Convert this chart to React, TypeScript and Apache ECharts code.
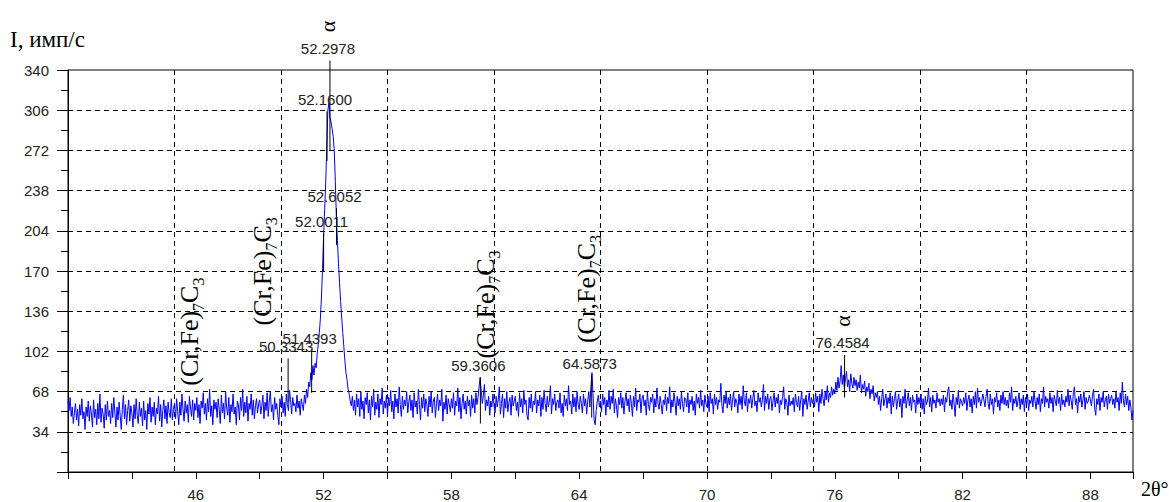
import React, { useEffect, useRef } from "react";
import * as echarts from "echarts";

// 2θ scan: first point and step (degrees)
const scanStart = 40;
const scanStep = 0.05;

// Intensity (imp/s), one row per degree (20 points per row), 40.00 ... 90.00
const intensity: number[] = [
  60, 52, 63, 47, 55, 41, 50, 58, 44, 53, 39, 57, 48, 62, 45, 51, 36, 55, 47, 60, // 40
  43, 56, 49, 38, 61, 46, 53, 40, 58, 45, 66, 42, 54, 49, 37, 57, 44, 60, 47, 52, // 41
  41, 58, 46, 63, 50, 38, 55, 44, 59, 48, 36, 53, 65, 45, 57, 40, 52, 61, 43, 56, // 42
  50, 38, 57, 45, 62, 48, 41, 59, 47, 54, 39, 60, 44, 52, 36, 58, 49, 63, 42, 55, // 43
  47, 59, 40, 54, 49, 64, 43, 57, 38, 52, 61, 45, 56, 41, 59, 50, 46, 62, 44, 53, // 44
  58, 45, 62, 51, 40, 59, 48, 66, 53, 43, 60, 50, 57, 42, 64, 55, 47, 61, 44, 58, // 45
  52, 63, 46, 57, 41, 60, 54, 67, 49, 58, 44, 62, 51, 70, 47, 56, 40, 61, 53, 59, // 46
  46, 62, 53, 41, 65, 50, 58, 45, 68, 54, 48, 63, 42, 57, 51, 66, 49, 55, 40, 60, // 47
  57, 44, 63, 52, 70, 47, 59, 50, 64, 43, 58, 53, 66, 48, 61, 45, 56, 62, 50, 58, // 48
  61, 49, 56, 65, 45, 59, 52, 67, 47, 60, 68, 51, 57, 44, 63, 53, 58, 48, 40, 62, // 49
  55, 64, 50, 59, 47, 66, 57, 52, 69, 61, 49, 63, 56, 58, 51, 65, 54, 60, 48, 62, // 50
  57, 52, 65, 58, 70, 63, 76, 72, 84, 78, 90, 82, 92, 88, 100, 108, 118, 130, 148, 172, // 51
  200, 222, 245, 275, 306, 312, 300, 296, 290, 284, 272, 246, 215, 196, 176, 160, 144, 130, 118, 106, // 52
  94, 84, 78, 70, 66, 60, 56, 64, 52, 61, 48, 66, 55, 62, 47, 68, 53, 60, 45, 63, // 53
  57, 67, 50, 61, 44, 64, 55, 70, 48, 59, 53, 66, 46, 62, 57, 71, 49, 60, 54, 65, // 54
  48, 63, 56, 69, 51, 60, 45, 66, 55, 62, 50, 72, 57, 47, 64, 53, 61, 56, 68, 50, // 55
  59, 65, 52, 61, 46, 67, 55, 60, 49, 70, 57, 44, 63, 54, 66, 51, 62, 57, 47, 64, // 56
  55, 68, 50, 60, 63, 46, 58, 66, 52, 61, 56, 70, 43, 59, 53, 65, 49, 62, 57, 51, // 57
  62, 54, 67, 48, 60, 56, 71, 51, 63, 45, 58, 66, 53, 60, 49, 64, 56, 61, 47, 65, // 58
  54, 62, 50, 67, 57, 63, 72, 80, 69, 58, 65, 74, 52, 61, 56, 64, 48, 60, 55, 66, // 59
  57, 50, 64, 55, 61, 72, 49, 58, 66, 46, 62, 54, 68, 51, 59, 63, 48, 65, 56, 60, // 60
  64, 52, 59, 47, 67, 55, 62, 50, 69, 57, 61, 48, 44, 63, 54, 66, 51, 60, 57, 68, // 61
  50, 61, 56, 65, 47, 63, 53, 69, 58, 51, 64, 55, 60, 73, 49, 62, 57, 66, 52, 59, // 62
  61, 54, 67, 50, 58, 47, 65, 56, 62, 52, 73, 57, 60, 49, 66, 55, 63, 51, 68, 57, // 63
  53, 64, 58, 50, 66, 56, 62, 49, 60, 68, 55, 72, 84, 66, 44, 40, 52, 60, 65, 55, // 64
  60, 51, 66, 57, 63, 48, 61, 55, 69, 53, 64, 58, 70, 50, 62, 56, 46, 63, 57, 67, // 65
  54, 63, 49, 60, 67, 56, 62, 51, 65, 58, 47, 64, 55, 71, 52, 61, 59, 66, 50, 62, // 66
  65, 56, 61, 48, 68, 57, 52, 63, 59, 66, 50, 62, 55, 71, 58, 53, 64, 57, 49, 61, // 67
  57, 66, 52, 63, 58, 72, 50, 61, 55, 67, 59, 48, 64, 56, 62, 53, 68, 58, 51, 63, // 68
  62, 55, 67, 50, 61, 57, 64, 52, 60, 48, 66, 58, 63, 54, 69, 56, 61, 51, 65, 58, // 69
  55, 64, 51, 67, 58, 62, 49, 66, 57, 63, 53, 61, 59, 75, 56, 50, 65, 58, 68, 54, // 70
  63, 57, 66, 52, 61, 68, 55, 62, 59, 50, 66, 57, 64, 53, 73, 60, 56, 67, 51, 62, // 71
  58, 65, 54, 62, 69, 56, 60, 51, 67, 59, 63, 55, 61, 74, 52, 64, 58, 66, 53, 62, // 72
  64, 52, 60, 67, 55, 63, 58, 66, 50, 61, 57, 64, 72, 53, 62, 59, 48, 65, 56, 60, // 73
  57, 63, 51, 66, 59, 55, 64, 52, 61, 68, 47, 62, 57, 65, 53, 60, 67, 55, 63, 58, // 74
  62, 55, 67, 59, 64, 51, 66, 58, 70, 62, 56, 68, 61, 73, 59, 67, 63, 72, 65, 70, // 75
  66, 76, 69, 80, 71, 77, 90, 74, 82, 70, 79, 85, 72, 78, 68, 83, 75, 71, 80, 73, // 76
  78, 69, 76, 71, 82, 67, 74, 70, 77, 64, 72, 68, 75, 62, 70, 66, 73, 60, 67, 63, // 77
  68, 57, 64, 52, 62, 70, 56, 61, 66, 54, 63, 58, 67, 49, 64, 55, 62, 68, 53, 60, // 78
  66, 55, 62, 46, 64, 58, 70, 54, 61, 67, 56, 63, 52, 65, 59, 61, 50, 66, 57, 63, // 79
  58, 66, 53, 62, 49, 64, 57, 60, 71, 55, 63, 51, 65, 58, 61, 54, 67, 59, 62, 56, // 80
  62, 57, 65, 51, 63, 59, 68, 72, 56, 61, 53, 66, 58, 47, 63, 57, 69, 54, 62, 59, // 81
  56, 63, 58, 67, 52, 61, 65, 55, 62, 50, 64, 57, 68, 54, 71, 59, 63, 56, 60, 66, // 82
  61, 55, 64, 70, 58, 53, 66, 57, 62, 49, 63, 59, 67, 55, 61, 52, 65, 58, 68, 57, // 83
  63, 56, 61, 54, 67, 59, 72, 52, 62, 58, 64, 55, 60, 67, 53, 62, 57, 65, 51, 63, // 84
  57, 66, 52, 61, 58, 64, 55, 68, 60, 53, 63, 57, 66, 51, 62, 58, 72, 55, 64, 59, // 85
  62, 54, 67, 58, 63, 51, 65, 60, 56, 69, 58, 63, 52, 66, 57, 61, 55, 64, 59, 70, // 86
  56, 65, 60, 53, 67, 72, 57, 62, 50, 64, 59, 66, 55, 61, 68, 53, 63, 58, 60, 65, // 87
  61, 56, 65, 70, 54, 48, 62, 57, 66, 52, 63, 59, 68, 55, 61, 64, 53, 66, 58, 62, // 88
  65, 57, 62, 54, 68, 59, 63, 52, 67, 58, 76, 60, 55, 66, 57, 64, 52, 61, 55, 44, // 89
  52, // 90
];

// Peak markers: position (2θ), label, marker line bottom/top (imp/s), phase symbol
const peakPos = [52.2978, 52.16, 52.6052, 52.0011, 51.4393, 50.3343, 59.3606, 64.5873, 76.4584];
const peakText = ["52.2978", "52.1600", "52.6052", "52.0011", "51.4393", "50.3343", "59.3606", "64.5873", "76.4584"];
const peakLow = [272, 263, 192, 170, 67, 59, 41, 46, 63];
const peakHigh = [348, 305, 223, 202, 103, 96, 80, 82, 99];
const peakPhase = ["α", "", "", "", "", "", "", "", "α"];

// Carbide phase labels (anchor = start of vertical text)
const phaseX = [45.72, 49.15, 59.6, 64.35];
const phaseY = [73, 124, 96, 109];

const xLabelValues = [46, 52, 58, 64, 70, 76, 82, 88];
const yMin = 0;
const yMax = 340;
const yStep = 34;
const xMin = 40;
const xMax = 90;

const SANS = "'Liberation Sans', Arial, sans-serif";
const SERIF = "'Liberation Serif', 'Times New Roman', serif";

export default function App() {
  const ref = useRef<HTMLDivElement>(null);

  useEffect(() => {
    document.body.style.margin = "0";
    const chart = echarts.init(ref.current!, null, { renderer: "svg" });

    const lineData = intensity.map((v, i) => [+(scanStart + i * scanStep).toFixed(2), v]);
    const markerData = peakPos.map((x, i) => [x, peakLow[i], peakHigh[i], i]);
    const phaseData = phaseX.map((x, i) => [x, phaseY[i]]);

    const gridLine = { lineStyle: { color: "#000", width: 1, type: [5, 4] as any } };

    chart.setOption({
      animation: false,
      backgroundColor: "#fff",
      grid: {
        left: 68,
        right: 36,
        top: 70,
        bottom: 30,
        show: true,
        borderColor: "#000",
        borderWidth: 1,
        backgroundColor: "transparent",
      },
      xAxis: [
        {
          type: "value",
          min: xMin,
          max: xMax,
          interval: 3,
          axisLine: { show: true, onZero: false, lineStyle: { color: "#000", width: 1 } },
          axisTick: { show: true, length: 7, lineStyle: { color: "#000" } },
          axisLabel: {
            margin: 15,
            fontFamily: SANS,
            fontSize: 15,
            color: "#222",
            showMinLabel: true,
            showMaxLabel: true,
            formatter: (v: number) => (xLabelValues.indexOf(Math.round(v)) >= 0 && Math.abs(v - Math.round(v)) < 1e-6 ? String(Math.round(v)) : ""),
          },
          splitLine: { show: false },
        },
        {
          type: "value",
          min: xMin,
          max: xMax,
          interval: 5,
          position: "bottom",
          axisLine: { show: false },
          axisTick: { show: false },
          axisLabel: { show: false },
          splitLine: { show: true, showMinLine: false, showMaxLine: false, ...gridLine },
        },
      ],
      yAxis: {
        type: "value",
        min: yMin,
        max: yMax,
        interval: yStep,
        axisLine: { show: true, onZero: false, lineStyle: { color: "#000", width: 1 } },
        axisTick: { show: true, length: 11, lineStyle: { color: "#000" } },
        minorTick: { show: true, splitNumber: 2, length: 7, lineStyle: { color: "#000" } },
        axisLabel: {
          margin: 19,
          fontFamily: SANS,
          fontSize: 15,
          color: "#222",
          formatter: (v: number) => (v === 0 ? "" : String(v)),
        },
        splitLine: { show: true, showMinLine: false, showMaxLine: false, ...gridLine },
      },
      graphic: [
        {
          type: "text",
          left: 10,
          top: 28,
          style: { text: "I, имп/с", fontFamily: SERIF, fontSize: 23, fill: "#000" },
        },
        {
          type: "text",
          left: 1141,
          top: 479,
          style: { text: "2θ°", fontFamily: SERIF, fontSize: 20, fill: "#000" },
        },
      ],
      series: [
        {
          type: "line",
          xAxisIndex: 0,
          data: lineData,
          showSymbol: false,
          symbol: "none",
          lineStyle: { color: "#0000ff", width: 1 },
          z: 2,
        },
        {
          type: "custom",
          xAxisIndex: 0,
          data: markerData,
          z: 5,
          renderItem: (params: any, api: any) => {
            const idx = api.value(3);
            const p1 = api.coord([api.value(0), api.value(1)]);
            const p2 = api.coord([api.value(0), api.value(2)]);
            const children: any[] = [
              {
                type: "line",
                shape: { x1: p1[0], y1: p1[1], x2: p2[0], y2: p2[1] },
                style: { stroke: "#000", lineWidth: 1 },
              },
              {
                type: "text",
                x: p2[0] - 2,
                y: p2[1] - 12,
                style: {
                  text: peakText[idx],
                  fontFamily: SANS,
                  fontSize: 15,
                  fill: "#222",
                  align: "center",
                  verticalAlign: "middle",
                },
              },
            ];
            if (peakPhase[idx]) {
              children.push({
                type: "text",
                x: p2[0] - 2,
                y: p2[1] - 34,
                rotation: Math.PI / 2,
                style: {
                  text: peakPhase[idx],
                  fontFamily: SERIF,
                  fontSize: 22,
                  fill: "#000",
                  align: "center",
                  verticalAlign: "middle",
                },
              });
            }
            return { type: "group", children };
          },
        },
        {
          type: "custom",
          xAxisIndex: 0,
          data: phaseData,
          z: 6,
          renderItem: (params: any, api: any) => {
            const p = api.coord([api.value(0), api.value(1)]);
            return {
              type: "text",
              x: p[0],
              y: p[1],
              rotation: Math.PI / 2,
              style: {
                text: "{m|(Cr,Fe)}{s|7}{m|C}{s|3}",
                align: "left",
                verticalAlign: "middle",
                rich: {
                  m: { fontFamily: SERIF, fontSize: 26, lineHeight: 34, verticalAlign: "middle", fill: "#000", color: "#000" },
                  s: { fontFamily: SERIF, fontSize: 16, lineHeight: 16, verticalAlign: "bottom", fill: "#000", color: "#000" },
                },
              },
            };
          },
        },
      ],
    });

    return () => chart.dispose();
  }, []);

  return <div ref={ref} style={{ width: 1169, height: 502 }} />;
}
